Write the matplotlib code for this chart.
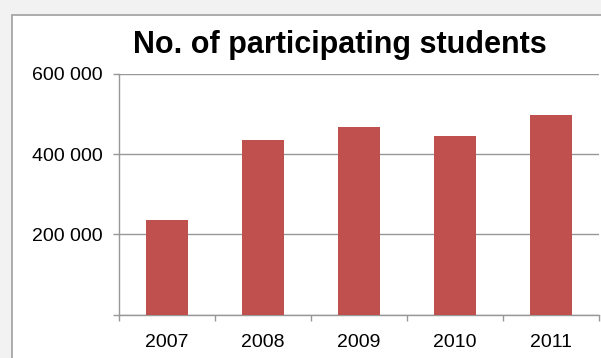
import numpy as np
import matplotlib
matplotlib.use('Agg')
import matplotlib.pyplot as plt
from matplotlib.patches import Rectangle
from matplotlib.ticker import FuncFormatter

matplotlib.rcParams['font.family'] = ['Liberation Sans', 'DejaVu Sans']

# ── Data ─────────────────────────────────────────────────────────────────────
years = ['2007', '2008', '2009', '2010', '2011']
students = [235000, 435000, 467000, 445000, 497000]
y_ticks = [0, 200000, 400000, 600000]

BAR_COLOR = '#c0504d'
GRID_COLOR = '#989898'
W, H = 601, 358

fig = plt.figure(figsize=(W / 100, H / 100), dpi=100)
fig.patch.set_facecolor('#f2f2f2')

# white chart panel with grey border, runs off the right/bottom edge
panel = Rectangle((12 / W, -0.1), 1.2, 1 - 15 / H + 0.1,
                  transform=fig.transFigure, facecolor='white',
                  edgecolor='#a0a0a0', linewidth=1.2, zorder=0)
fig.add_artist(panel)

ax = fig.add_axes([119 / W, 1 - 314.5 / H, 480 / W, 240.5 / H])
ax.set_facecolor('none')

x = np.arange(len(years))
ax.bar(x, students, width=0.43, color=BAR_COLOR, zorder=3)

ax.set_xlim(-0.5, len(years) - 0.5)
ax.set_ylim(0, 600000)

ax.set_yticks(y_ticks)
ax.yaxis.set_major_formatter(FuncFormatter(
    lambda v, p: '' if v == 0 else f'{int(v):,}'.replace(',', ' ')))
ax.grid(axis='y', color=GRID_COLOR, linewidth=1.0, zorder=1)
ax.set_axisbelow(True)

# category labels at centres, tick marks at boundaries
ax.set_xticks(x)
ax.set_xticklabels(years)
ax.set_xticks(np.arange(len(years) + 1) - 0.5, minor=True)
ax.tick_params(axis='x', which='major', length=0, pad=14, labelsize=14)
ax.tick_params(axis='x', which='minor', length=4.5, color=GRID_COLOR, width=1)
ax.tick_params(axis='y', length=4.5, color=GRID_COLOR, width=1,
               pad=7.5, labelsize=14)

for side in ['top', 'right']:
    ax.spines[side].set_visible(False)
for side in ['left', 'bottom']:
    ax.spines[side].set_color(GRID_COLOR)
    ax.spines[side].set_linewidth(1.0)

fig.text(340 / W, 1 - 53 / H, 'No. of participating students',
         ha='center', va='baseline', fontsize=22, fontweight='bold')

plt.savefig('out.png', dpi=100, facecolor=fig.get_facecolor())
